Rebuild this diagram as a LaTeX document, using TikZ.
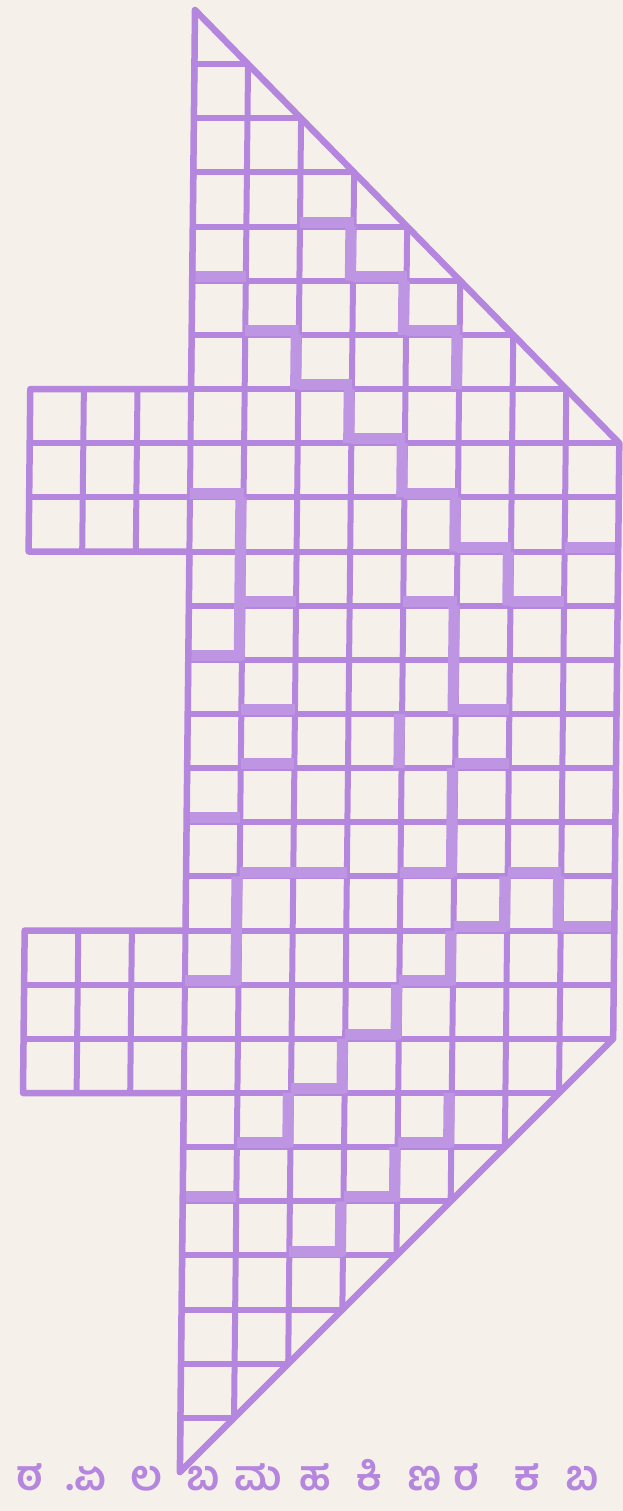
\documentclass[tikz,border=0pt]{standalone}
\usepackage{fontspec}
\newfontfamily\kanfont[Script=Kannada]{Hind Mysuru}
\definecolor{crayon}{RGB}{181,134,222}
\definecolor{paper}{RGB}{245,241,234}

\begin{document}
\begin{tikzpicture}[
    x={(53.6pt,0pt)}, y={(-0.56pt,-54.15pt)},
    gridline/.style={draw=crayon, line width=6pt},
    outline/.style={draw=crayon, line width=6.5pt, line join=round},
    piece/.style={draw=crayon!88!white, line width=11pt, line cap=square},
    script/.style={text=crayon, font=\kanfont\bfseries\fontsize{42}{50}\selectfont, inner sep=0pt, anchor=base}
]

\useasboundingbox (-195pt,10pt) rectangle (428pt,-1501pt);
\fill[paper] (-195pt,10pt) rectangle (428pt,-1501pt);

\begin{scope}
\clip (0,0) -- (8,8) -- (8,19) -- (0,27) -- (0,20) -- (-3,20) -- (-3,17) -- (0,17)
    -- (0,10) -- (-3,10) -- (-3,7) -- (0,7) -- cycle;
\foreach \c in {-2,...,7}
    \draw[gridline] (\c,0) -- (\c,27);
\foreach \r in {1,...,26}
    \draw[gridline] (-3,\r) -- (8,\r);

% traced piece borders
\foreach \r/\a/\b in {4/2/3, 5/0/1, 5/3/4, 6/1/2, 6/4/5, 7/2/3, 8/3/4, 9/0/1, 9/4/5,
    10/5/6, 10/7/8, 11/1/2, 11/4/5, 11/6/7, 12/0/1, 13/1/2, 13/5/6, 14/1/2, 14/5/6,
    15/0/1, 16/1/3, 16/4/5, 16/6/7, 17/5/6, 17/7/8, 18/0/1, 18/4/5, 19/3/4, 20/2/3,
    21/1/2, 21/4/5, 22/0/1, 22/3/4, 23/2/3}
    \draw[piece] (\a,\r-0.08) -- (\b,\r-0.08);
\foreach \c/\a/\b in {3/4/5, 4/5/6, 2/6/7, 5/6/7, 3/7/8, 4/8/9, 1/9/12, 5/9/10, 6/10/11,
    5/11/13, 4/13/14, 5/14/16, 1/16/18, 6/16/17, 7/16/17, 5/17/18, 4/18/19, 3/19/20,
    2/20/21, 5/20/21, 4/21/22, 3/22/23}
    \draw[piece] (\c-0.05,\a) -- (\c-0.05,\b);
\end{scope}

\draw[outline] (0,0) -- (8,8) -- (8,19) -- (0,27) -- (0,20) -- (-3,20) -- (-3,17) -- (0,17)
    -- (0,10) -- (-3,10) -- (-3,7) -- (0,7) -- cycle;

\foreach \gx/\gl [count=\i] in {30/ಠ, 86/.ಏ, 147/ಲ, 203/ಬ, 258/ಮ, 315/ಹ, 370/ಕಿ,
    425/ಣ, 466/ರ, 527/ಕ, 582/ಬ}
    \node[script] (glyph\i) at ({\gx pt-195pt},-1480pt) {\gl};

\end{tikzpicture}
\end{document}
